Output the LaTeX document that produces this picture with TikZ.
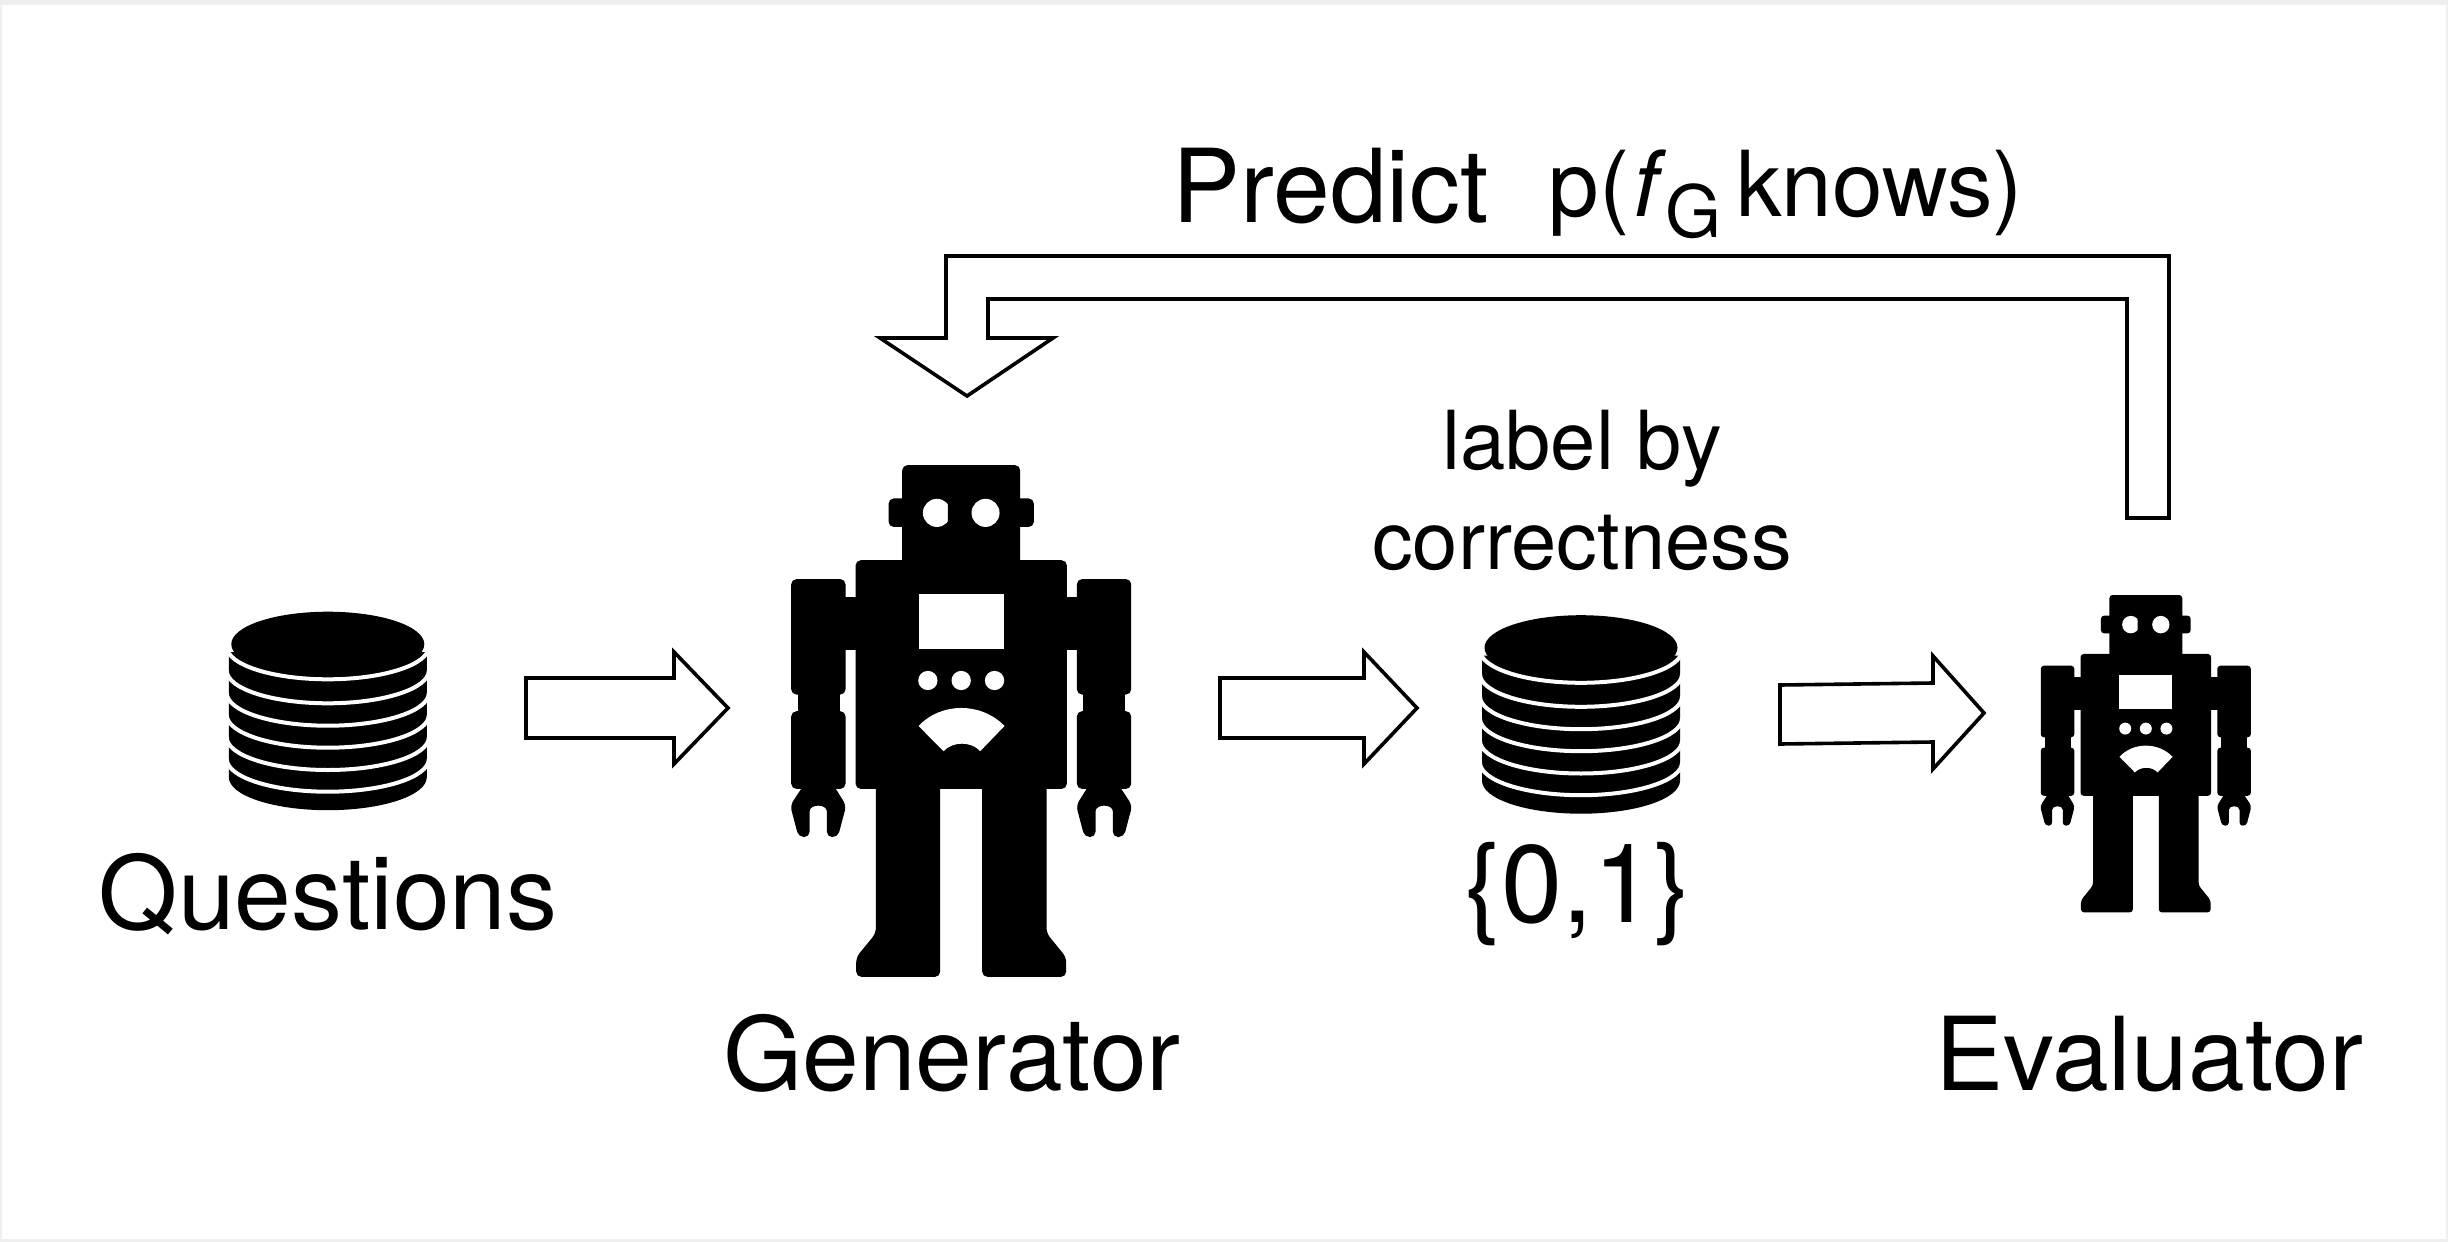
\documentclass[tikz,border=0pt]{standalone}
\usepackage{fontspec}
\setmainfont{TeX Gyre Heros}

\definecolor{framegrey}{HTML}{EFEFEF}

\tikzset{
  biglabel/.style={anchor=base,inner sep=0pt,font=\fontsize{51pt}{60pt}\selectfont},
  midlabel/.style={inner sep=0pt,align=center,font=\fontsize{40.7pt}{50pt}\selectfont},
  blockarrow/.style={draw=black,fill=white,line width=1.8pt,miter limit=10},
  robotfig/.pic={
    \foreach \s in {1,-1} {
      \begin{scope}[xscale=\s]
        % head and ear
        \fill (-177,95) rectangle (40,400) ;
        \fill (-218,185) rectangle (-150,262) ;
        % body, shoulder, arm
        \fill (-317,352) rectangle (40,970) ;
        \fill[sharp corners] (-350,452) rectangle (-310,595) ;
        \fill (-510,403) rectangle (-347,715) ;
        \fill[sharp corners] (-490,700) rectangle (-365,775) ;
        \fill (-510,760) rectangle (-347,970) ;
        % claw
        \fill (-473,960) -- (-513,1015) -- (-488,1100) -- (-455,1100) -- (-455,1045) .. controls (-455,1010) and (-403,1010) .. (-403,1045) -- (-403,1100) -- (-370,1100) -- (-345,1015) -- (-383,960) -- cycle ;
        % leg
        \fill (-256,950) -- (-256,1360) -- (-315,1425) -- (-315,1478) -- (-63,1478) -- (-63,950) -- cycle ;
        % eye
        \fill[white] (-73,224) ellipse [x radius=42,y radius=38] ;
      \end{scope}
    }
    \fill[white,sharp corners] (-128,443) rectangle (128,593) ;
    \foreach \b in {-100,0,100} {
      \fill[white] (\b,677) ellipse [x radius=29,y radius=26] ;
    }
    \fill[white,sharp corners] (-128,800) .. controls (-60,735) and (60,735) .. (130,800) -- (57,868) .. controls (30,841) and (-25,841) .. (-53,868) -- cycle ;
  },
  dbstack/.pic={
    \fill (-99,8) -- (-99,133) arc [start angle=180,end angle=0,x radius=99,y radius=33] -- (99,8) -- cycle ;
    \foreach \h in {2.4,26.4,48.8,70.8,93.1,114.8} {
      \draw[white,line width=2pt] (-101,\h) arc [start angle=180,end angle=0,x radius=101,y radius=32.7] ;
    }
    \fill (0,0) ellipse [x radius=96.5,y radius=32.5] ;
  }
}

\begin{document}
\begin{tikzpicture}[x=0.5pt,y=0.5pt,yscale=-1,xscale=1]
\useasboundingbox (0,0) rectangle (2448,1242) ;

\fill[framegrey] (0,0) rectangle (2448,1242) ;
\fill[white] (2,5) rectangle (2446,1239) ;

% block arrows
\draw[blockarrow] (526,678) -- (674,678) -- (674,652) -- (728,708) -- (674,764) -- (674,738) -- (526,738) -- cycle ;
\draw[blockarrow] (1220,678) -- (1364,678) -- (1364,652) -- (1417,708) -- (1364,764) -- (1364,738) -- (1220,738) -- cycle ;
\draw[blockarrow] (1780,685) -- (1933,683) -- (1933,656) -- (1984,713) -- (1933,769) -- (1933,742) -- (1780,744) -- cycle ;
\draw[blockarrow] (946,256) -- (2169,256) -- (2169,518) -- (2127,518) -- (2127,299) -- (988,299) -- (988,338) -- (1053,338) -- (967,396) -- (880,338) -- (946,338) -- cycle ;

% stores
\pic (questionsdb) [yscale=-1] at (327.8,644.2) {dbstack} ;
\pic (labeldb) [yscale=-1] at (1581,647.7) {dbstack} ;

% robots
\pic (generatorbot) [rounded corners=2.6pt,xscale=0.3333,yscale=-0.37] at (961.2,430) {robotfig} ;
\pic (evaluatorbot) [rounded corners=1.6pt,xscale=0.206,yscale=-0.2295] at (2145.8,573.2) {robotfig} ;

% labels
\draw (328,929) node (questions) [biglabel] {Questions} ;
\draw (952,1090) node (generator) [biglabel] {Generator} ;
\draw (2149,1090) node (evaluator) [biglabel] {Evaluator} ;
\draw (1172,222) node (predict) [biglabel,anchor=base west] {Predict} ;
\draw (1548,216) node (pknows) [inner sep=0pt,anchor=base west,font=\fontsize{45.5pt}{50pt}\selectfont] {p(\kern 2pt\textit{f}\kern -0.5pt\raisebox{-10.5pt}{\fontsize{36pt}{40pt}\selectfont G}\kern 7.5pt knows)} ;
\draw (1582,490) node (correctlabel) [midlabel] {label by\\correctness} ;
\draw (1578,922) node (binaryset) [biglabel,font=\fontsize{55pt}{60pt}\selectfont] {\{0,1\}} ;
\end{tikzpicture}
\end{document}
